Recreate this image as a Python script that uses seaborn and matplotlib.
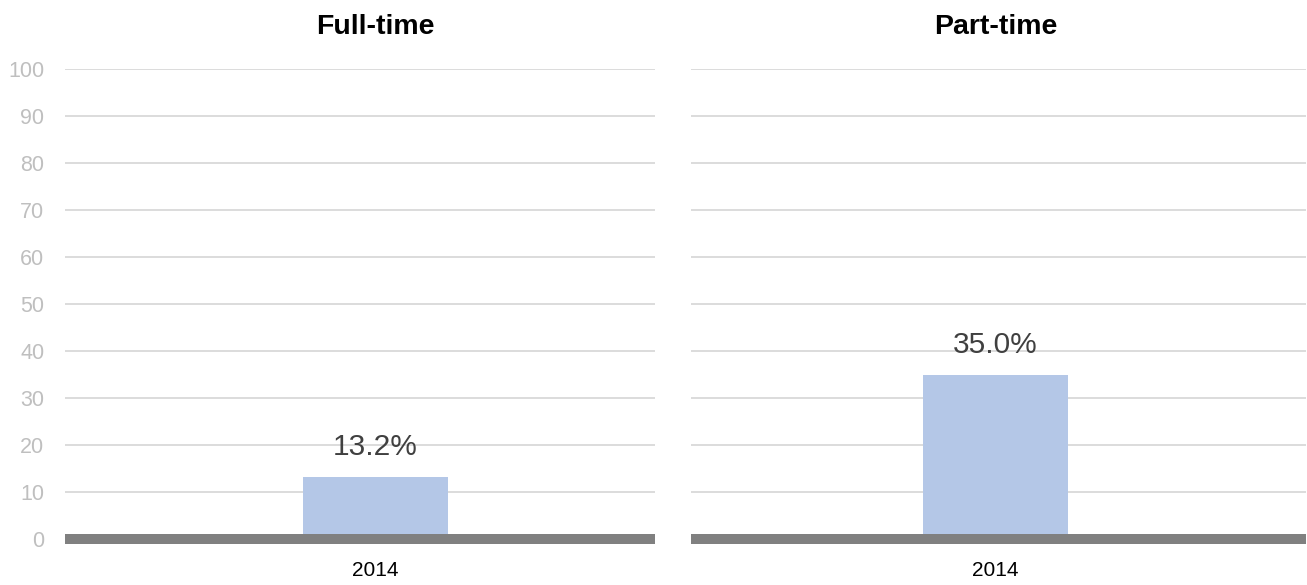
import matplotlib
matplotlib.use("Agg")
import matplotlib.pyplot as plt
import seaborn as sns
import pandas as pd

# Data
years = ["2014"]
full_time = [13.2]
part_time = [35.0]
panel_titles = ["Full-time", "Part-time"]
y_ticks = [0, 10, 20, 30, 40, 50, 60, 70, 80, 90, 100]

sns.set_theme(style="white")
plt.rcParams["font.family"] = ["Liberation Sans", "DejaVu Sans"]

W, H = 1307, 585
fig = plt.figure(figsize=(W / 100, H / 100), dpi=100)

BAR_COLOR = "#b4c7e7"
GRID_COLOR = "#d9d9d9"
BASE_COLOR = "#808080"

# axes geometry in pixels: (left, right), bar centre
panels = [
    dict(left=65, right=655, centre=375.5, values=full_time, ylabels=True),
    dict(left=691, right=1306, centre=995.5, values=part_time, ylabels=False),
]
top_px, bottom_px = 69, 539
bar_w_units = 0.5
bar_w_px = 145.0
ppu = bar_w_px / bar_w_units

for p, title in zip(panels, panel_titles):
    ax = fig.add_axes([p["left"] / W, (H - bottom_px) / H,
                       (p["right"] - p["left"]) / W, (bottom_px - top_px) / H])
    df = pd.DataFrame({"year": years, "value": p["values"]})
    sns.barplot(data=df, x="year", y="value", ax=ax, color=BAR_COLOR,
                width=bar_w_units, saturation=1, linewidth=0, zorder=2)
    ax.set_xlim((p["left"] - p["centre"]) / ppu, (p["right"] - p["centre"]) / ppu)
    ax.set_ylim(0, 100)
    ax.set_yticks(y_ticks)
    for t in y_ticks[1:]:
        ax.axhline(t, color=GRID_COLOR, lw=1.3, zorder=1)
    ax.axhline(0, color=BASE_COLOR, lw=7.2, solid_capstyle="butt",
               clip_on=False, zorder=3)
    for s in ax.spines.values():
        s.set_visible(False)
    ax.set_xlabel("")
    ax.set_ylabel("")
    ax.tick_params(axis="both", length=0)
    ax.tick_params(axis="x", labelsize=15, labelcolor="black", pad=16)
    if p["ylabels"]:
        ax.tick_params(axis="y", labelsize=15.5, labelcolor="#bfbfbf", pad=15)
    else:
        ax.set_yticklabels([])
    ax.bar_label(ax.containers[0], labels=[f"{v:.1f}%" for v in p["values"]],
                 padding=11.5, fontsize=21.5, color="#404040")
    ax.annotate(title, xy=(0, 1), xycoords=("data", "axes fraction"),
                xytext=(0, 25), textcoords="offset points",
                ha="center", va="baseline", fontsize=20.5, fontweight="bold",
                color="black", annotation_clip=False)

fig.savefig("out.png", dpi=100, facecolor="white")
